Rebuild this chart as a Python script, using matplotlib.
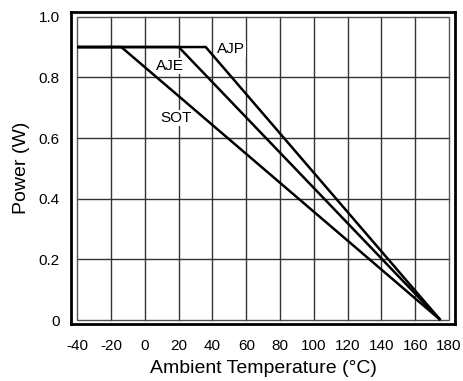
import matplotlib.pyplot as plt
from matplotlib.patches import Rectangle

plt.rcParams['font.family'] = ['Liberation Sans', 'DejaVu Sans']
plt.rcParams['axes.unicode_minus'] = False

# derating curves: (temperature, power)
sot_t = [-40, -14, 175]
sot_p = [0.9, 0.9, 0.0]
aje_t = [-40, 20, 175]
aje_p = [0.9, 0.9, 0.0]
ajp_t = [-40, 36, 175]
ajp_p = [0.9, 0.9, 0.0]

x_ticks = [-40, -20, 0, 20, 40, 60, 80, 100, 120, 140, 160, 180]
y_ticks = [0, 0.2, 0.4, 0.6, 0.8, 1.0]
y_labels = ['0', '0.2', '0.4', '0.6', '0.8', '1.0']

fig = plt.figure(figsize=(4.63, 3.81), dpi=100)
ax = fig.add_axes([0.1533, 0.1496, 0.8294, 0.8189])
ax.set_xlim(-43.8, 183.6)
ax.set_ylim(-0.013, 1.0155)

# grid inside the data box
for xv in x_ticks[1:-1]:
    ax.plot([xv, xv], [0, 1.0], color='#333333', lw=1.0, zorder=1)
for yv in y_ticks[1:-1]:
    ax.plot([-40, 180], [yv, yv], color='#333333', lw=1.0, zorder=1)
ax.add_patch(Rectangle((-40, 0), 220, 1.0, fill=False, ec='#555555', lw=1.0, zorder=1))

for t, p in [(sot_t, sot_p), (aje_t, aje_p), (ajp_t, ajp_p)]:
    ax.plot(t, p, color='black', lw=1.8, zorder=3, solid_capstyle='butt')

box = dict(facecolor='white', edgecolor='none', pad=0.5)
ax.text(51, 0.893, 'AJP', fontsize=11, ha='center', va='center', bbox=box, zorder=2)
ax.text(15, 0.837, 'AJE', fontsize=11, ha='center', va='center', bbox=box, zorder=2)
ax.text(18.5, 0.666, 'SOT', fontsize=11, ha='center', va='center', bbox=box, zorder=2)

ax.set_xticks(x_ticks)
ax.set_yticks(y_ticks)
ax.set_yticklabels(y_labels)
ax.tick_params(length=0, labelsize=11)
ax.tick_params(axis='x', pad=10.5)
ax.tick_params(axis='y', pad=8)
for s in ax.spines.values():
    s.set_linewidth(2.0)

ax.set_xlabel('Ambient Temperature (°C)', fontsize=14, labelpad=5)
ax.set_ylabel('Power (W)', fontsize=14, labelpad=6)

fig.savefig('out.png', dpi=100)
